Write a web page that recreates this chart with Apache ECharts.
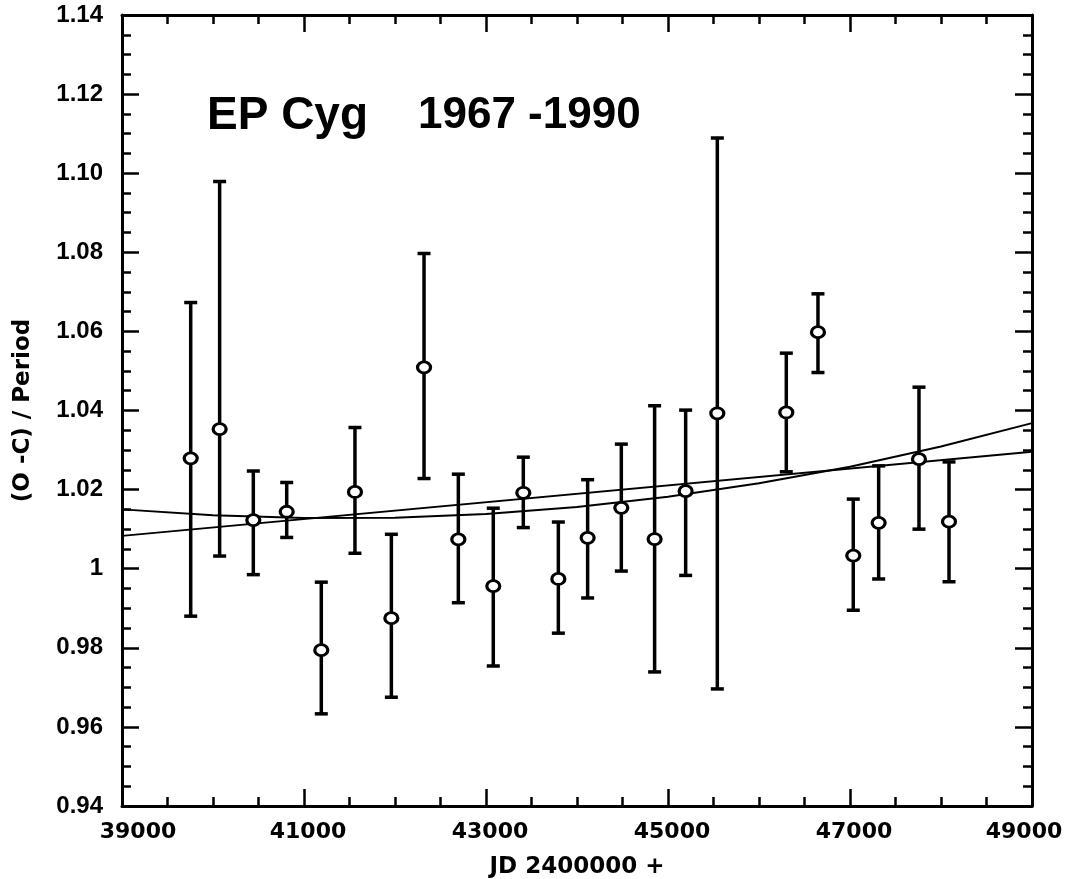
<!DOCTYPE html>
<html>
<head>
    <meta charset="utf-8">
    <title>EP Cyg 1967-1990</title>
    <script src="https://cdn.jsdelivr.net/npm/echarts@6/dist/echarts.min.js"></script>
    <style>
        html, body { margin: 0; padding: 0; background: #fff; }
        #chart { width: 1071px; height: 879px; }
    </style>
</head>
<body>
<div id="chart"></div>
<script>
    var jd    = [39755, 40073, 40443, 40810, 41190, 41560, 41960, 42319, 42696, 43080, 43410, 43795,
                 44117, 44487, 44853, 45194, 45542, 46300, 46648, 47036, 47315, 47758, 48088];
    var oc    = [1.0279, 1.0353, 1.0123, 1.0144, 0.9794, 1.0194, 0.9875, 1.0509, 1.0074, 0.9956, 1.0192, 0.9974,
                 1.0078, 1.0154, 1.0075, 1.0196, 1.0393, 1.0395, 1.0598, 1.0033, 1.0116, 1.0277, 1.0119];
    var upper = [1.0673, 1.0979, 1.0247, 1.0218, 0.9966, 1.0357, 1.0087, 1.0797, 1.0239, 1.0153, 1.0282, 1.0118,
                 1.0225, 1.0315, 1.0412, 1.0401, 1.1089, 1.0545, 1.0695, 1.0176, 1.0260, 1.0459, 1.0270];
    var lower = [0.9880, 1.0032, 0.9985, 1.0079, 0.9633, 1.0039, 0.9675, 1.0228, 0.9914, 0.9754, 1.0104, 0.9837,
                 0.9926, 0.9994, 0.9739, 0.9983, 0.9696, 1.0245, 1.0496, 0.9895, 0.9974, 1.0100, 0.9967];

    // the two fitted curves
    var lineJD  = [39000, 49000];
    var lineVal = [1.0083, 1.0296];
    var quadJD  = [39000, 40000, 41000, 42000, 43000, 44000, 45000, 46000, 47000, 48000, 49000];
    var quadVal = [1.0150, 1.0135, 1.0128, 1.0129, 1.0138, 1.0156, 1.0182, 1.0216, 1.0258, 1.0309, 1.0368];

    function pairs(xs, ys) {
        return xs.map(function (x, i) { return [x, ys[i]]; });
    }

    var myChart = echarts.init(document.getElementById('chart'));

    var tickStyle = { color: '#000', width: 2.5 };
    var baseX = {
        type: 'value', min: 39000, max: 49000, interval: 2000,
        splitLine: { show: false },
        axisLine: { show: true, onZero: false, lineStyle: { color: '#000', width: 3 } },
        axisTick: { show: true, inside: true, length: 17, lineStyle: tickStyle },
        minorTick: { show: true, splitNumber: 4, length: 9, lineStyle: tickStyle }
    };
    var baseY = {
        type: 'value', min: 0.94, max: 1.14, interval: 0.02,
        splitLine: { show: false },
        axisLine: { show: true, onZero: false, lineStyle: { color: '#000', width: 3 } },
        axisTick: { show: true, inside: true, length: 17, lineStyle: tickStyle },
        minorTick: { show: true, splitNumber: 4, length: 9, lineStyle: tickStyle }
    };

    var option = {
        animation: false,
        backgroundColor: '#fff',
        grid: { left: 122, right: 39, top: 15, bottom: 73, containLabel: false, outerBoundsMode: 'none' },
        graphic: [
            { type: 'text', x: 207, y: 116,
              style: { text: 'EP Cyg', font: 'bold 46px "Liberation Sans"', fill: '#000', align: 'left', verticalAlign: 'middle' } },
            { type: 'text', x: 418, y: 116,
              style: { text: '1967 -1990', font: 'bold 44px "Liberation Sans"', fill: '#000', align: 'left', verticalAlign: 'middle' } }
        ],
        xAxis: [
            Object.assign({}, baseX, {
                position: 'bottom',
                name: 'JD 2400000 +', nameLocation: 'middle', nameGap: 50,
                nameTextStyle: { fontFamily: 'DejaVu Sans', fontWeight: 'bold', fontSize: 23, color: '#000' },
                axisLabel: {
                    margin: 15,
                    formatter: function (v) {
                        if (v === 39000) return '{l|' + v + '}';
                        if (v === 49000) return '{r|' + v + '}';
                        return '{m|' + v + '}';
                    },
                    rich: {
                        l: { fontFamily: 'DejaVu Sans', fontWeight: 'bold', fontSize: 22, color: '#000', padding: [0, 0, 0, 32] },
                        m: { fontFamily: 'DejaVu Sans', fontWeight: 'bold', fontSize: 22, color: '#000', padding: [0, 0, 0, 8] },
                        r: { fontFamily: 'DejaVu Sans', fontWeight: 'bold', fontSize: 22, color: '#000', padding: [0, 16, 0, 0] }
                    }
                }
            }),
            Object.assign({}, baseX, { position: 'top', axisLabel: { show: false } })
        ],
        yAxis: [
            Object.assign({}, baseY, {
                position: 'left',
                name: '(O -C) / Period', nameLocation: 'middle', nameGap: 87, nameRotate: 90,
                nameTextStyle: { fontFamily: 'DejaVu Sans', fontWeight: 'bold', fontSize: 23, color: '#000' },
                axisLabel: {
                    margin: 19,
                    fontFamily: 'Liberation Sans', fontWeight: 'bold', fontSize: 24, color: '#000',
                    formatter: function (v) {
                        var s = v.toFixed(2);
                        return s === '1.00' ? '1' : s;
                    }
                }
            }),
            Object.assign({}, baseY, { position: 'right', axisLabel: { show: false } })
        ],
        series: [
            {
                name: 'linear fit', type: 'line', data: pairs(lineJD, lineVal),
                showSymbol: false, symbol: 'none', z: 2,
                lineStyle: { color: '#000', width: 2 }
            },
            {
                name: 'quadratic fit', type: 'line', data: pairs(quadJD, quadVal),
                showSymbol: false, symbol: 'none', z: 2,
                lineStyle: { color: '#000', width: 2 }
            },
            {
                name: 'error', type: 'custom', z: 3,
                data: jd.map(function (x, i) { return [x, lower[i], upper[i]]; }),
                encode: { x: 0, y: [1, 2] },
                renderItem: function (params, api) {
                    var top = api.coord([api.value(0), api.value(2)]);
                    var bot = api.coord([api.value(0), api.value(1)]);
                    var hw = 6.5;
                    var st = { stroke: '#000', lineWidth: 3.5 };
                    return {
                        type: 'group',
                        children: [
                            { type: 'line', shape: { x1: top[0], y1: top[1], x2: bot[0], y2: bot[1] }, style: st },
                            { type: 'line', shape: { x1: top[0] - hw, y1: top[1], x2: top[0] + hw, y2: top[1] }, style: st },
                            { type: 'line', shape: { x1: bot[0] - hw, y1: bot[1], x2: bot[0] + hw, y2: bot[1] }, style: st }
                        ]
                    };
                }
            },
            {
                name: 'O-C', type: 'scatter', z: 4,
                data: pairs(jd, oc),
                symbol: 'circle', symbolSize: [13, 11],
                itemStyle: { color: '#fff', borderColor: '#000', borderWidth: 3, opacity: 1 }
            }
        ]
    };

    myChart.setOption(option);
</script>
</body>
</html>
